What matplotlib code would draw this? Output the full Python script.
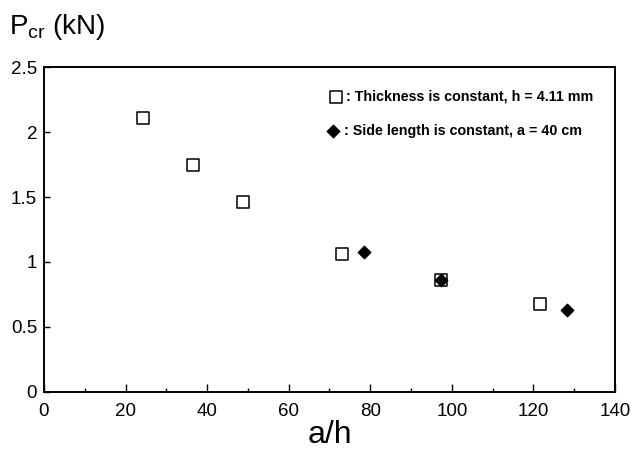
import matplotlib
matplotlib.use("Agg")
import matplotlib.pyplot as plt
from matplotlib.ticker import MultipleLocator

plt.rcParams['font.family'] = ['Liberation Sans', 'DejaVu Sans']
plt.rcParams['mathtext.fontset'] = 'custom'
plt.rcParams['mathtext.rm'] = 'Liberation Sans'
plt.rcParams['mathtext.it'] = 'Liberation Sans'

# thickness constant, h = 4.11 mm
thick_ah = [24.3, 36.5, 48.7, 73.0, 97.3, 121.7]
thick_pcr = [2.11, 1.75, 1.46, 1.06, 0.86, 0.68]

# side length constant, a = 40 cm
side_ah = [78.4, 97.3, 128.2]
side_pcr = [1.08, 0.86, 0.63]

legend_labels = [": Thickness is constant, h = 4.11 mm",
                 ": Side length is constant, a = 40 cm"]

fig = plt.figure(figsize=(6.33, 4.5), dpi=100)
ax = fig.add_axes([0.0695, 0.129, 0.902, 0.722])

ax.scatter(thick_ah, thick_pcr, marker='s', s=75, facecolors='white',
           edgecolors='black', linewidths=1.1, zorder=3)
ax.scatter(side_ah, side_pcr, marker='D', s=40, color='black', zorder=4)

ax.set_xlim(0, 140)
ax.set_ylim(0, 2.5)
ax.xaxis.set_major_locator(MultipleLocator(20))
ax.xaxis.set_minor_locator(MultipleLocator(10))
ax.set_yticks([0, 0.5, 1, 1.5, 2, 2.5])
ax.set_yticklabels(['0', '0.5', '1', '1.5', '2', '2.5'])
ax.tick_params(axis='both', which='major', direction='in', length=6,
               width=1, labelsize=13.5)
ax.tick_params(axis='x', which='major', pad=8)
ax.tick_params(axis='y', which='major', length=4, pad=5)
ax.tick_params(axis='x', which='minor', direction='in', length=3, width=1)
for sp in ax.spines.values():
    sp.set_linewidth(1.4)

# hand-made legend inside the plot
ax.scatter([71.7], [2.27], marker='s', s=75, facecolors='white',
           edgecolors='black', linewidths=1.1, zorder=3)
ax.scatter([70.8], [2.01], marker='D', s=40, color='black', zorder=4)
ax.text(74.0, 2.27, legend_labels[0], fontsize=10.3, fontweight='bold',
        va='center', ha='left')
ax.text(73.5, 2.01, legend_labels[1], fontsize=10.3, fontweight='bold',
        va='center', ha='left')

fig.text(0.015, 0.925, r'P$_{\rm cr}$ (kN)', fontsize=20, ha='left', va='baseline')
ax.set_xlabel('a/h', fontsize=23, labelpad=0)

fig.savefig("out.png", dpi=100)
